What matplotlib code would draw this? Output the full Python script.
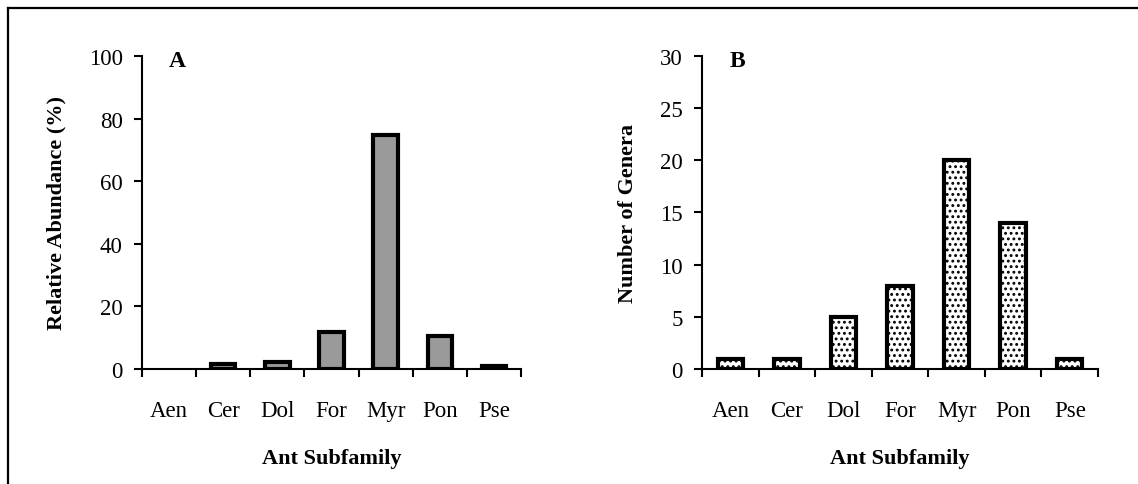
import numpy as np
import matplotlib.pyplot as plt
from matplotlib.lines import Line2D

plt.rcParams['font.family'] = ['Liberation Serif', 'DejaVu Serif']
plt.rcParams['hatch.linewidth'] = 1.3

subfamilies = ['Aen', 'Cer', 'Dol', 'For', 'Myr', 'Pon', 'Pse']
abundance = [0, 1.6, 2.3, 11.7, 74.8, 10.6, 1.1]
genera = [1, 1, 5, 8, 20, 14, 1]

fig = plt.figure(figsize=(11.38, 4.85), dpi=100)

# outer frame (only top and left visible in the original crop)
fig.add_artist(Line2D([8 / 1138, 8 / 1138], [0, 1 - 9 / 485], transform=fig.transFigure, color='black', lw=1.6))
fig.add_artist(Line2D([8 / 1138, 1], [1 - 9 / 485, 1 - 9 / 485], transform=fig.transFigure, color='black', lw=1.6))

axA = fig.add_axes([0.1248, 0.2371, 0.333, 0.6454])
axB = fig.add_axes([0.6169, 0.2371, 0.348, 0.6454])

x = np.arange(len(subfamilies))


def style(ax, ymax, step, ylabel, letter):
    ax.set_xlim(-0.5, len(subfamilies) - 0.5)
    ax.set_ylim(0, ymax)
    ax.set_yticks(np.arange(0, ymax + 1, step))
    ax.set_xticks(x)
    ax.set_xticklabels(subfamilies)
    ax.set_xticks(np.arange(-0.5, len(subfamilies)), minor=True)
    ax.tick_params(axis='x', which='major', length=0, pad=22, labelsize=16.5)
    ax.tick_params(axis='x', which='minor', length=6, width=1.5, direction='out')
    ax.tick_params(axis='y', length=6, width=1.5, direction='out', labelsize=16.5, pad=8)
    for s in ['top', 'right']:
        ax.spines[s].set_visible(False)
    for s in ['left', 'bottom']:
        ax.spines[s].set_linewidth(1.5)
    ax.set_ylabel(ylabel, fontsize=16, fontweight='bold', labelpad=16)
    ax.set_xlabel('Ant Subfamily', fontsize=16, fontweight='bold', labelpad=20)
    ax.text(0.07, 0.985, letter, transform=ax.transAxes, fontsize=17,
            fontweight='bold', va='center', ha='left')


barsA = axA.bar(x, abundance, width=0.45, color='#9a9a9a', edgecolor='black', linewidth=3.0, zorder=3)
for b, v in zip(barsA, abundance):
    if v == 0:
        b.set_linewidth(0)
style(axA, 100, 20, 'Relative Abundance (%)', 'A')

axB.bar(x, genera, width=0.45, color='white', edgecolor='black', linewidth=3.0, hatch='...', zorder=3)
style(axB, 30, 5, 'Number of Genera', 'B')

fig.savefig('out.png', dpi=100)
